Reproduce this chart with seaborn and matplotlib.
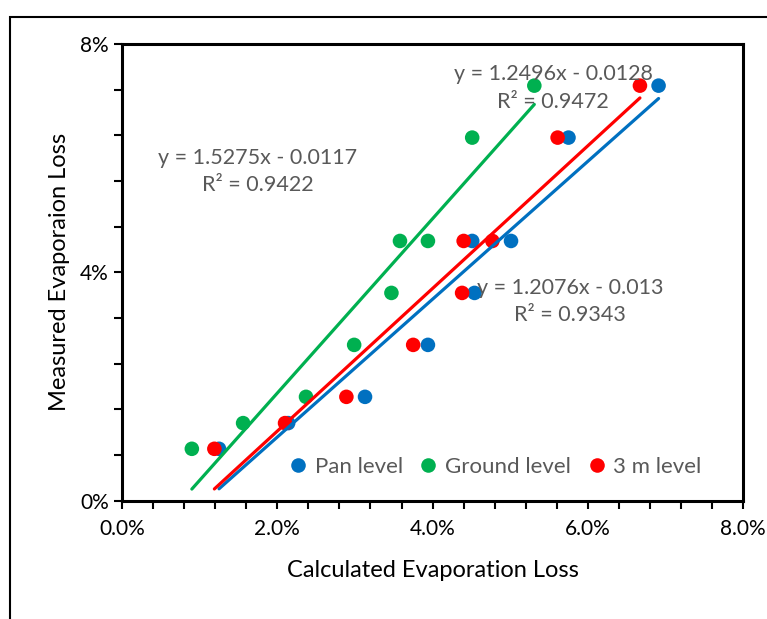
import numpy as np
import pandas as pd
import matplotlib
matplotlib.use('Agg')
import matplotlib.pyplot as plt
import seaborn as sns
from matplotlib.patches import Rectangle
from matplotlib.ticker import MultipleLocator, PercentFormatter

# Measured (y) is shared by all three series
measured = [0.0091, 0.0136, 0.0182, 0.0273, 0.0364, 0.0455, 0.0455, 0.0636, 0.0727]
pan_calc = [0.0125, 0.0214, 0.0313, 0.0394, 0.0454, 0.0451, 0.0501, 0.0575, 0.0691]
ground_calc = [0.0090, 0.0156, 0.0237, 0.0299, 0.0347, 0.0358, 0.0394, 0.0451, 0.0531]
m3_calc = [0.0119, 0.0210, 0.0289, 0.0375, 0.0438, 0.0440, 0.0477, 0.0561, 0.0667]

series_names = ['Pan level', 'Ground level', '3 m level']
series_colors = ['#0070C0', '#00B050', '#FF0000']

# trendline coefficients as printed on the chart
slopes = [1.2076, 1.5275, 1.2496]
intercepts = [-0.013, -0.0117, -0.0128]
r2_values = [0.9343, 0.9422, 0.9472]

df = pd.DataFrame({
    'calc': pan_calc + ground_calc + m3_calc,
    'measured': measured * 3,
    'level': [n for n in series_names for _ in measured],
})

sns.set_theme(style='white')
plt.rcParams['font.family'] = ['Lato', 'DejaVu Sans']

fig = plt.figure(figsize=(7.67, 6.19), dpi=100)
ax = fig.add_axes([0.159, 0.191, 0.810, 0.738])

# outer chart frame (cut off at right/bottom)
fig.patches.append(Rectangle((10 / 767, -0.05), 1.1, 1 - 17 / 619 + 0.05,
                             transform=fig.transFigure, fill=False,
                             edgecolor='black', linewidth=1.5))

sns.scatterplot(data=df, x='calc', y='measured', hue='level',
                palette=dict(zip(series_names, series_colors)),
                s=110, edgecolor='none', ax=ax, zorder=2)

xs_all = [pan_calc, ground_calc, m3_calc]
for xs, m, b, c in zip(xs_all, slopes, intercepts, series_colors):
    xx = np.array([min(xs), max(xs)])
    ax.plot(xx, m * xx + b, color=c, linewidth=2.3, zorder=3)

text_color = '#595959'
eq_pos = [(0.0577, 0.0349), (0.0175, 0.0576), (0.0555, 0.0723)]
for (tx, ty), m, b, r2 in zip(eq_pos, slopes, intercepts, r2_values):
    ax.text(tx, ty, f'y = {m:g}x - {abs(b):g}\nR² = {r2:.4f}', ha='center', va='center',
            fontsize=15.5, color=text_color, linespacing=1.45, zorder=4)

ax.set_xlim(0, 0.08)
ax.set_ylim(0, 0.08)
ax.xaxis.set_major_locator(MultipleLocator(0.02))
ax.xaxis.set_minor_locator(MultipleLocator(0.004))
ax.yaxis.set_major_locator(MultipleLocator(0.04))
ax.yaxis.set_minor_locator(MultipleLocator(0.008))
ax.xaxis.set_major_formatter(PercentFormatter(1.0, decimals=1))
ax.yaxis.set_major_formatter(PercentFormatter(1.0, decimals=0))
ax.tick_params(which='both', direction='out', length=6, width=1.5, color='black',
               bottom=True, left=True, labelsize=15, labelcolor='black')
ax.tick_params(axis='x', pad=7)
for sp in ax.spines.values():
    sp.set_color('black')
    sp.set_linewidth(2.2)

ax.set_xlabel('Calculated Evaporation Loss', fontsize=17, color='black', labelpad=15)
ax.set_ylabel('Measured Evaporaion Loss', fontsize=17, color='black', labelpad=7)

leg = ax.legend(loc='lower right', ncol=3, frameon=False, fontsize=16,
                handlelength=0.8, handletextpad=0.35, columnspacing=0.75,
                bbox_to_anchor=(0.965, 0.008), title=None)
for t in leg.get_texts():
    t.set_color(text_color)

fig.savefig('out.png', dpi=100)
